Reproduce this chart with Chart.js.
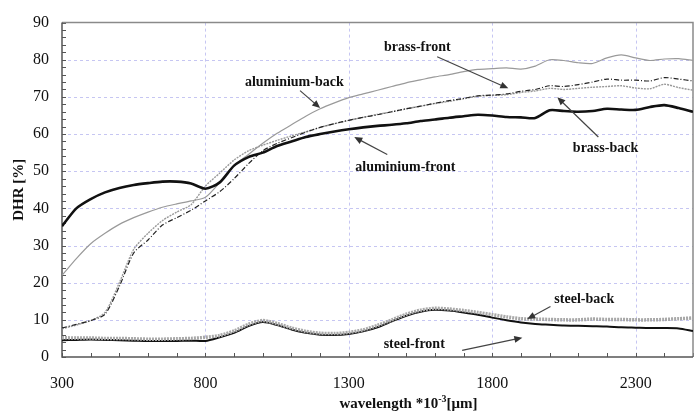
<!DOCTYPE html>
<html>
<head>
<meta charset="utf-8">
<script src="https://cdn.jsdelivr.net/npm/chart.js@4.4.0/dist/chart.umd.min.js"></script>
<style>
html, body { margin: 0; padding: 0; background: #fff; }
</style>
</head>
<body>
<canvas id="myChart" width="697" height="412"></canvas>
<script>
// wavelength *10^-3 [um]
const wavelengths = [300, 350, 400, 450, 500, 550, 600, 650, 700, 750, 800, 850, 900, 950, 1000,
    1050, 1100, 1150, 1200, 1250, 1300, 1350, 1400, 1450, 1500, 1550, 1600, 1650, 1700, 1750,
    1800, 1850, 1900, 1950, 2000, 2050, 2100, 2150, 2200, 2250, 2300, 2350, 2400, 2450, 2500];

// DHR [%]
const alFront = [35.2, 40, 42.5, 44.3, 45.5, 46.3, 46.8, 47.2, 47.2, 46.7, 45.3, 47, 51.5, 53.8, 55,
    56.8, 58, 59.2, 60, 60.7, 61.3, 61.8, 62.2, 62.5, 62.9, 63.5, 63.9, 64.4, 64.8, 65.2,
    65, 64.6, 64.5, 64.3, 66.4, 66.2, 66, 66.2, 66.8, 66.6, 66.5, 67.3, 67.8, 67, 66];
const alBack = [22, 26.5, 30.5, 33.3, 35.7, 37.5, 39, 40.3, 41.2, 42, 43, 47, 51.5, 54.5, 57.5,
    60.2, 62.5, 64.8, 66.8, 68.4, 69.8, 70.8, 71.8, 72.8, 73.8, 74.6, 75.4, 76, 76.8, 77.4,
    77.6, 77.8, 77.5, 78.3, 80, 79.8, 79.2, 79, 80.5, 81.3, 80.5, 79.8, 80.2, 80.3, 79.8];
const brassFront = [7.8, 8.8, 9.8, 11.5, 19, 28, 31.5, 35.5, 37.5, 39.5, 42, 44.5, 48, 52, 55.5,
    57.5, 59, 60.5, 61.8, 62.8, 63.7, 64.5, 65.2, 66, 66.8, 67.5, 68.3, 69, 69.6, 70.3,
    70.5, 70.8, 71.5, 72, 73, 72.8, 73.3, 74, 74.8, 74.5, 74.5, 74.3, 75.2, 74.8, 74.3];
const brassBack = [7.6, 8.6, 9.8, 12, 20, 29, 33.3, 36.7, 39, 41, 46, 49.5, 53, 55.5, 57,
    58.3, 59.5, 60.6, 61.8, 62.8, 63.7, 64.5, 65.3, 66, 66.8, 67.5, 68.2, 68.8, 69.5, 70.2,
    70.4, 70.6, 71.2, 71.6, 72.3, 72, 72.3, 72.6, 72.8, 73, 72.4, 72.2, 73.4, 72.5, 71.8];
const steelBack = [5.2, 5.1, 5.1, 5, 5, 4.9, 4.8, 4.8, 4.9, 5, 5.3, 5.8, 7, 8.8, 9.8,
    9, 7.8, 6.9, 6.4, 6.3, 6.6, 7.3, 8.5, 10, 11.5, 12.6, 13.1, 12.9, 12.5, 12,
    11.4, 10.8, 10.3, 10.2, 10.1, 10, 10, 10.2, 10.1, 10.1, 10, 10, 10.1, 10.3, 10.5];
const steelFront = [4.5, 4.6, 4.7, 4.6, 4.5, 4.4, 4.3, 4.3, 4.3, 4.4, 4.3, 5.3, 6.5, 8.3, 9.4,
    8.6, 7.4, 6.5, 6, 5.9, 6.2, 6.9, 8, 9.6, 11.1, 12.2, 12.7, 12.5, 12, 11.4,
    10.6, 9.9, 9.3, 8.9, 8.7, 8.5, 8.4, 8.3, 8.2, 8, 7.9, 7.8, 7.8, 7.7, 7];

const xTicks = [300, 800, 1300, 1800, 2300];
const yTicks = [0, 10, 20, 30, 40, 50, 60, 70, 80, 90];

// label text, label centre, arrow start, arrow tip (data units)
const notes = [
    { text: 'brass-front', at: [1539, 83.2], from: [1608, 80.8], to: [1856, 72.3] },
    { text: 'aluminium-back', at: [1110, 74], from: [1130, 71.7], to: [1200, 67] },
    { text: 'aluminium-front', at: [1497, 51.1], from: [1434, 54.5], to: [1319, 59.2] },
    { text: 'brass-back', at: [2195, 56.1], from: [2170, 59.2], to: [2027, 69.9] },
    { text: 'steel-back', at: [2121, 15.4], from: [2003, 13.6], to: [1922, 10.2] },
    { text: 'steel-front', at: [1528, 3.4], from: [1695, 1.8], to: [1905, 5.2] }
];

const serif = '"Liberation Serif", "Times New Roman", serif';
const toPoints = arr => arr.map((v, i) => ({ x: wavelengths[i], y: v }));

const framePlugin = {
    id: 'frame',
    beforeDatasetsDraw(chart) {
        const { ctx, chartArea: a, scales: { x, y } } = chart;
        ctx.save();
        // dashed grid
        ctx.strokeStyle = '#c6c6f2';
        ctx.lineWidth = 1;
        ctx.setLineDash([3, 3]);
        ctx.beginPath();
        xTicks.forEach(v => {
            if (v <= x.min) return;
            const px = Math.round(x.getPixelForValue(v)) + 0.5;
            ctx.moveTo(px, a.top);
            ctx.lineTo(px, a.bottom);
        });
        yTicks.forEach(v => {
            if (v <= y.min || v >= y.max) return;
            const py = Math.round(y.getPixelForValue(v)) + 0.5;
            ctx.moveTo(a.left, py);
            ctx.lineTo(a.right, py);
        });
        ctx.stroke();
        ctx.setLineDash([]);
        // inward tick marks
        ctx.strokeStyle = '#555';
        ctx.beginPath();
        for (let v = x.min; v <= x.max; v += 100) {
            const px = Math.round(x.getPixelForValue(v)) + 0.5;
            ctx.moveTo(px, a.bottom);
            ctx.lineTo(px, a.bottom - 4);
        }
        for (let v = y.min; v <= y.max; v += 2) {
            const py = Math.round(y.getPixelForValue(v)) + 0.5;
            ctx.moveTo(a.left, py);
            ctx.lineTo(a.left + 4, py);
        }
        ctx.stroke();
        // frame
        ctx.lineWidth = 1.5;
        ctx.strokeStyle = '#8a8a8a';
        ctx.beginPath();
        ctx.moveTo(a.left, a.top);
        ctx.lineTo(a.right, a.top);
        ctx.lineTo(a.right, a.bottom);
        ctx.stroke();
        ctx.strokeStyle = '#555';
        ctx.beginPath();
        ctx.moveTo(a.left, a.top);
        ctx.lineTo(a.left, a.bottom);
        ctx.lineTo(a.right, a.bottom);
        ctx.stroke();
        ctx.restore();
    },
    afterDraw(chart) {
        const { ctx, chartArea: a } = chart;
        ctx.save();
        ctx.fillStyle = '#111';
        ctx.font = 'bold 15px ' + serif;
        ctx.textAlign = 'center';
        ctx.textBaseline = 'middle';
        ctx.translate(19, (a.top + a.bottom) / 2);
        ctx.rotate(-Math.PI / 2);
        ctx.fillText('DHR [%]', 0, 0);
        ctx.restore();

        // wavelength *10^-3[um]
        ctx.save();
        ctx.fillStyle = '#111';
        ctx.textBaseline = 'alphabetic';
        ctx.textAlign = 'left';
        const main = 'bold 15px ' + serif;
        const sup = 'bold 10px ' + serif;
        const parts = [['wavelength *10', main, 0], ['-3', sup, -6], ['[\u03bcm]', main, 0]];
        let w = 0;
        parts.forEach(p => { ctx.font = p[1]; w += ctx.measureText(p[0]).width; });
        let px = (a.left + a.right) / 2 + 31 - w / 2;
        const base = 408;
        parts.forEach(p => {
            ctx.font = p[1];
            ctx.fillText(p[0], px, base + p[2]);
            px += ctx.measureText(p[0]).width;
        });
        ctx.restore();
    }
};

const notesPlugin = {
    id: 'notes',
    afterDatasetsDraw(chart) {
        const { ctx, scales: { x, y } } = chart;
        ctx.save();
        ctx.font = 'bold 14px ' + serif;
        ctx.textAlign = 'center';
        ctx.textBaseline = 'middle';
        notes.forEach(n => {
            ctx.fillStyle = '#111';
            ctx.fillText(n.text, x.getPixelForValue(n.at[0]), y.getPixelForValue(n.at[1]));
            const x1 = x.getPixelForValue(n.from[0]), y1 = y.getPixelForValue(n.from[1]);
            const x2 = x.getPixelForValue(n.to[0]), y2 = y.getPixelForValue(n.to[1]);
            const ang = Math.atan2(y2 - y1, x2 - x1);
            ctx.strokeStyle = '#444';
            ctx.fillStyle = '#333';
            ctx.lineWidth = 1.2;
            ctx.beginPath();
            ctx.moveTo(x1, y1);
            ctx.lineTo(x2 - 6 * Math.cos(ang), y2 - 6 * Math.sin(ang));
            ctx.stroke();
            ctx.beginPath();
            ctx.moveTo(x2, y2);
            ctx.lineTo(x2 - 8 * Math.cos(ang) + 3.5 * Math.sin(ang), y2 - 8 * Math.sin(ang) - 3.5 * Math.cos(ang));
            ctx.lineTo(x2 - 8 * Math.cos(ang) - 3.5 * Math.sin(ang), y2 - 8 * Math.sin(ang) + 3.5 * Math.cos(ang));
            ctx.closePath();
            ctx.fill();
        });
        ctx.restore();
    }
};

const tickFont = { size: 16, family: serif };

const ctx = document.getElementById('myChart').getContext('2d');
const myChart = new Chart(ctx, {
    type: 'line',
    data: {
        datasets: [
            { label: 'aluminium-front', data: toPoints(alFront), borderColor: '#111', borderWidth: 2.6, order: 1 },
            { label: 'aluminium-back', data: toPoints(alBack), borderColor: '#9a9a9a', borderWidth: 1.2, order: 4 },
            { label: 'brass-front', data: toPoints(brassFront), borderColor: '#222', borderWidth: 1.2, borderDash: [5, 2, 1, 2], order: 3 },
            { label: 'brass-back', data: toPoints(brassBack), borderColor: '#999', borderWidth: 1.4, borderDash: [2, 1], order: 5 },
            { label: 'steel-front', data: toPoints(steelFront), borderColor: '#111', borderWidth: 2, order: 6 },
            { label: 'steel-back', data: toPoints(steelBack), borderColor: '#a8a8a8', borderWidth: 3.5, borderDash: [2, 1], order: 2 }
        ]
    },
    options: {
        responsive: false,
        animation: false,
        layout: { padding: { top: 12, right: 4, left: 0, bottom: 0 } },
        elements: {
            point: { radius: 0 },
            line: { tension: 0.25, fill: false }
        },
        plugins: {
            legend: { display: false },
            tooltip: { enabled: false }
        },
        scales: {
            x: {
                type: 'linear',
                min: 300,
                max: 2500,
                afterBuildTicks: s => { s.ticks = xTicks.map(v => ({ value: v })); },
                afterFit: s => { s.height = 55; },
                grid: { display: false, drawTicks: false },
                border: { display: false },
                ticks: {
                    color: '#111', font: tickFont, padding: 17, maxRotation: 0, autoSkip: false,
                    callback: v => String(v)
                }
            },
            y: {
                min: 0,
                max: 90,
                afterBuildTicks: s => { s.ticks = yTicks.map(v => ({ value: v })); },
                afterFit: s => { s.width = 62; },
                grid: { display: false, drawTicks: false },
                border: { display: false },
                ticks: { color: '#111', font: tickFont, padding: 13, callback: v => String(v) }
            }
        }
    },
    plugins: [framePlugin, notesPlugin]
});
</script>
</body>
</html>
